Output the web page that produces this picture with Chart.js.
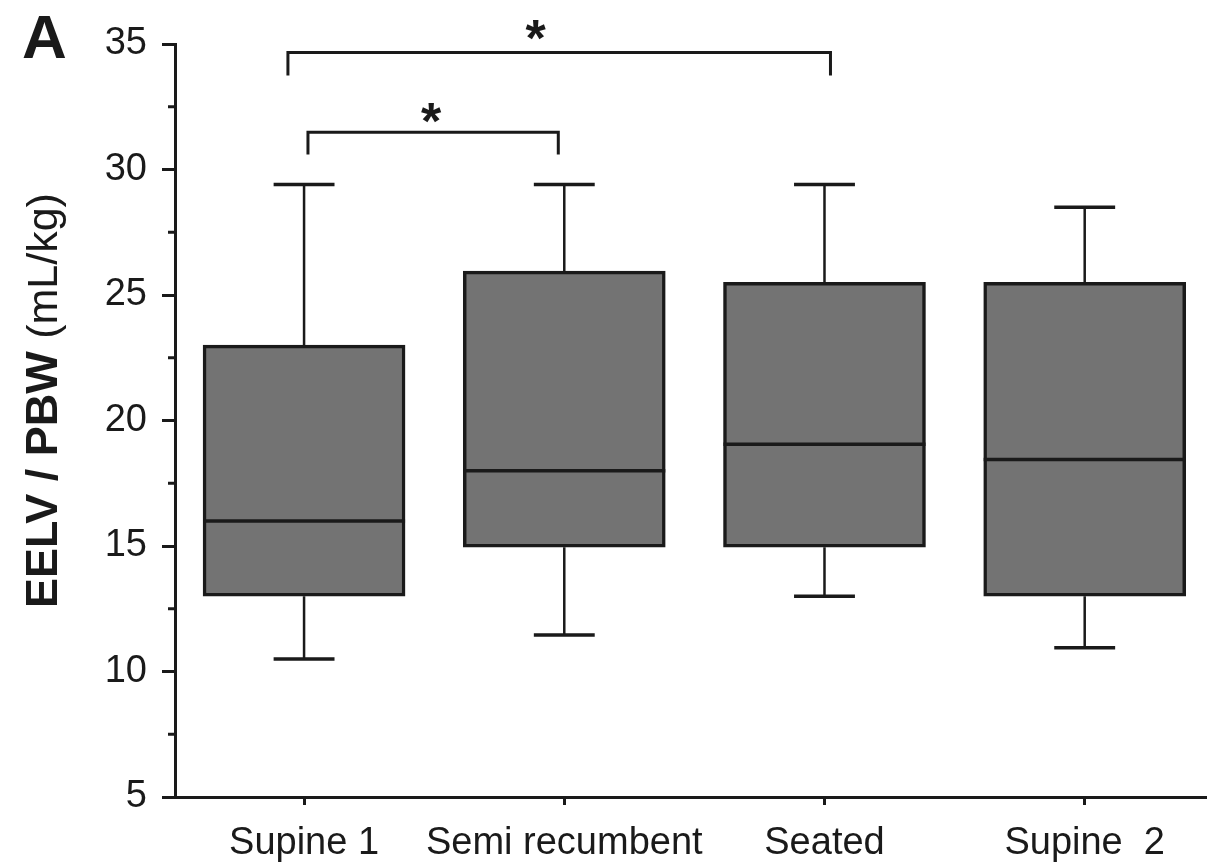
<!DOCTYPE html>
<html>
<head>
<meta charset="utf-8">
<script src="https://cdn.jsdelivr.net/npm/chart.js@4/dist/chart.umd.min.js"></script>
<style>
  body { margin: 0; background: #fff; }
  #wrap { width: 1207px; height: 865px; }
</style>
</head>
<body>
<div id="wrap"><canvas id="grafico"></canvas></div>
<script>
// valores
const categorias = ['Supine 1', 'Semi recumbent', 'Seated', 'Supine  2'];
const bigodeMin = [10.5, 11.45, 13.0, 10.95];
const quartil1 = [13.0, 14.95, 14.95, 13.0];
const mediana = [16.0, 18.0, 19.05, 18.45];
const quartil3 = [23.0, 25.95, 25.5, 25.5];
const bigodeMax = [29.4, 29.4, 29.4, 28.5];
const ticksY = [5, 10, 15, 20, 25, 30, 35];
const ticksMenores = [7.5, 12.5, 17.5, 22.5, 27.5, 32.5];

// colchetes de significancia (unidades dos eixos)
const colcheteIni = [0.938, 1.015];
const colcheteFim = [3.023, 1.977];
const colcheteTopo = [34.66, 31.48];
const colchetePe = [33.75, 30.6];
const estrelaX = [1.89, 1.488];
const estrelaY = [35.5, 32.2];

const preto = '#1a1a1a';
const fonte = '"Liberation Sans", Arial, Helvetica, sans-serif';

const caixas = quartil1.map((v, i) => ({ x: i + 1, y: [v, quartil3[i]] }));

// desenha bigodes, medianas, colchetes, titulo do eixo e a letra A
const extras = {
  id: 'extras',
  afterDatasetsDraw(chart) {
    const c = chart.ctx;
    const sx = chart.scales.x, sy = chart.scales.y;
    c.save();
    c.strokeStyle = preto;
    c.lineCap = 'butt';

    // bigodes
    for (let i = 0; i < categorias.length; i++) {
      const xc = sx.getPixelForValue(i + 1);
      const x0 = sx.getPixelForValue(i + 1 - 0.117);
      const x1 = sx.getPixelForValue(i + 1 + 0.117);
      c.lineWidth = 2.5;
      c.beginPath();
      c.moveTo(xc, sy.getPixelForValue(quartil3[i]));
      c.lineTo(xc, sy.getPixelForValue(bigodeMax[i]));
      c.moveTo(xc, sy.getPixelForValue(quartil1[i]));
      c.lineTo(xc, sy.getPixelForValue(bigodeMin[i]));
      c.stroke();
      c.lineWidth = 3.5;
      c.beginPath();
      c.moveTo(x0, sy.getPixelForValue(bigodeMax[i]));
      c.lineTo(x1, sy.getPixelForValue(bigodeMax[i]));
      c.moveTo(x0, sy.getPixelForValue(bigodeMin[i]));
      c.lineTo(x1, sy.getPixelForValue(bigodeMin[i]));
      c.stroke();
    }

    // medianas
    const meta = chart.getDatasetMeta(0);
    c.lineWidth = 3.5;
    meta.data.forEach((barra, i) => {
      const ym = sy.getPixelForValue(mediana[i]);
      c.beginPath();
      c.moveTo(barra.x - barra.width / 2, ym);
      c.lineTo(barra.x + barra.width / 2, ym);
      c.stroke();
    });

    // colchetes
    c.lineWidth = 3;
    c.lineJoin = 'miter';
    for (let k = 0; k < colcheteIni.length; k++) {
      const xa = sx.getPixelForValue(colcheteIni[k]);
      const xb = sx.getPixelForValue(colcheteFim[k]);
      const yt = sy.getPixelForValue(colcheteTopo[k]);
      const yp = sy.getPixelForValue(colchetePe[k]);
      c.beginPath();
      c.moveTo(xa, yp);
      c.lineTo(xa, yt);
      c.lineTo(xb, yt);
      c.lineTo(xb, yp);
      c.stroke();
    }
    c.fillStyle = preto;
    c.font = 'bold 52px ' + fonte;
    c.textAlign = 'center';
    c.textBaseline = 'middle';
    for (let k = 0; k < estrelaX.length; k++) {
      c.fillText('*', sx.getPixelForValue(estrelaX[k]), sy.getPixelForValue(estrelaY[k]) + 10);
    }

    // ticks menores do eixo y
    c.lineWidth = 3;
    ticksMenores.forEach(v => {
      const y = sy.getPixelForValue(v);
      c.beginPath();
      c.moveTo(sx.left - 7, y);
      c.lineTo(sx.left, y);
      c.stroke();
    });

    // titulo do eixo y (parte em negrito + parte normal)
    c.translate(57, 608);
    c.rotate(-Math.PI / 2);
    c.textAlign = 'left';
    c.textBaseline = 'alphabetic';
    c.font = 'bold 45px ' + fonte;
    const parte1 = 'EELV / PBW';
    c.fillText(parte1, 0, 0);
    const w1 = c.measureText(parte1 + ' ').width;
    c.font = '43px ' + fonte;
    c.fillText('(mL/kg)', w1, 0);
    c.restore();

    // letra do painel
    c.save();
    c.fillStyle = preto;
    c.font = 'bold 62px ' + fonte;
    c.textAlign = 'left';
    c.textBaseline = 'alphabetic';
    c.fillText('A', 22, 58);
    c.restore();
  }
};

const ctx = document.getElementById('grafico');
const grafico = new Chart(ctx, {
  type: 'bar',
  data: {
    datasets: [{
      data: caixas,
      backgroundColor: '#737373',
      borderColor: preto,
      borderWidth: 3.5,
      borderSkipped: false,
      barThickness: 202
    }]
  },
  options: {
    responsive: true,
    maintainAspectRatio: false,
    animation: false,
    layout: { padding: { top: 44, left: 0, right: 0, bottom: 0 } },
    plugins: { legend: { display: false }, tooltip: { enabled: false } },
    scales: {
      x: {
        type: 'linear',
        offset: false,
        min: 0.504,
        max: 4.47,
        afterBuildTicks: s => { s.ticks = [1, 2, 3, 4].map(v => ({ value: v })); },
        afterFit: s => { s.height = 68; },
        grid: { drawOnChartArea: false, tickLength: 8, tickWidth: 3, tickColor: preto, offset: false },
        border: { display: true, width: 3, color: preto },
        ticks: {
          autoSkip: false,
          maxRotation: 0,
          padding: 16,
          color: preto,
          font: { family: fonte, size: 38 },
          callback: v => categorias[v - 1]
        }
      },
      y: {
        min: 5,
        max: 35,
        afterBuildTicks: s => { s.ticks = ticksY.map(v => ({ value: v })); },
        afterFit: s => { s.width = 175; },
        grid: { drawOnChartArea: false, tickLength: 13, tickWidth: 3, tickColor: preto },
        border: { display: true, width: 3, color: preto },
        ticks: {
          padding: 15,
          color: preto,
          font: { family: fonte, size: 38 }
        }
      }
    }
  },
  plugins: [extras]
});
</script>
</body>
</html>
